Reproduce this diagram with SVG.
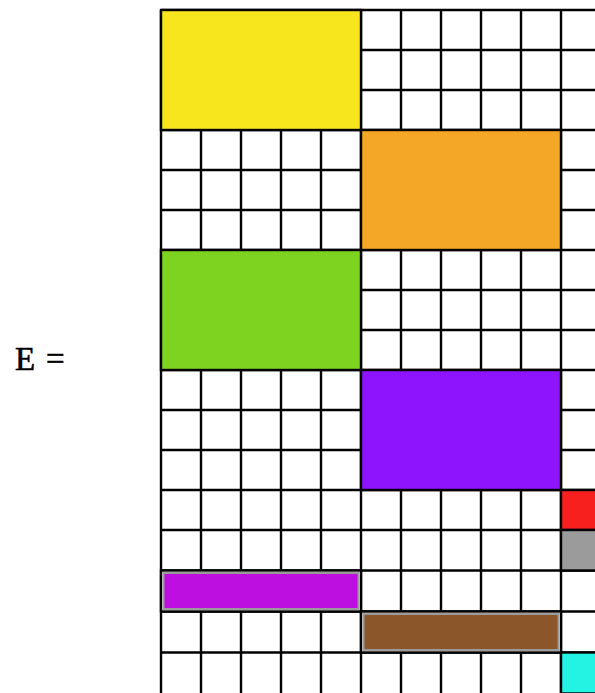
<svg xmlns="http://www.w3.org/2000/svg" width="595" height="693" viewBox="0 0 595 693">
<style>
.ln{stroke:#000;stroke-width:2.4;fill:none}
.blk{stroke:#000;stroke-width:2.4}
.bar{stroke:#9b9b9b;stroke-width:2}
.lbl{font-family:"Liberation Serif","DejaVu Serif",serif;font-size:33px;fill:#000;stroke:#000;stroke-width:0.6}
</style>
<rect width="595" height="693" fill="#fff"/>
<g id="label"><text class="lbl" x="15" y="370">E <tspan x="46">=</tspan></text></g>
<g id="grid" class="ln">
<path d="M161 10V693M201 10V693M241 10V693M281 10V693M321 10V693M361 10V693M401 10V693M441 10V693M481 10V693M521 10V693M561 10V693"/>
<path d="M161 10H595M161 50H595M161 90H595M161 130H595M161 170H595M161 210H595M161 250H595M161 290H595M161 330H595M161 370H595M161 410H595M161 450H595M161 490H595M161 530H595M161 570.5H595M161 611.5H595M161 652.5H595"/>
</g>
<g id="block-yellow"><rect class="blk" x="161" y="10" width="200" height="120" fill="#f7e51e"/></g>
<g id="block-orange"><rect class="blk" x="361" y="130" width="200" height="120" fill="#f4a627"/></g>
<g id="block-green"><rect class="blk" x="161" y="250" width="200" height="120" fill="#7ed321"/></g>
<g id="block-violet"><rect class="blk" x="361" y="370" width="200" height="120" fill="#8e14fe"/></g>
<g id="block-red"><rect class="blk" x="561" y="490" width="40" height="40" fill="#f81f1f"/></g>
<g id="block-gray"><rect class="blk" x="561" y="530" width="40" height="40.5" fill="#9b9b9b"/></g>
<g id="bar-purple"><rect x="161" y="570.5" width="200" height="41" fill="#fff" stroke="#000" stroke-width="2.4"/><rect class="bar" x="163.5" y="573" width="195" height="36" fill="#bd10e0"/></g>
<g id="bar-brown"><rect x="361" y="611.5" width="200" height="41" fill="#fff" stroke="#000" stroke-width="2.4"/><rect class="bar" x="363.5" y="614" width="195" height="36" fill="#8b572a"/></g>
<g id="block-cyan"><rect class="blk" x="561" y="652.5" width="40" height="41" fill="#24f3e3"/></g>
</svg>
